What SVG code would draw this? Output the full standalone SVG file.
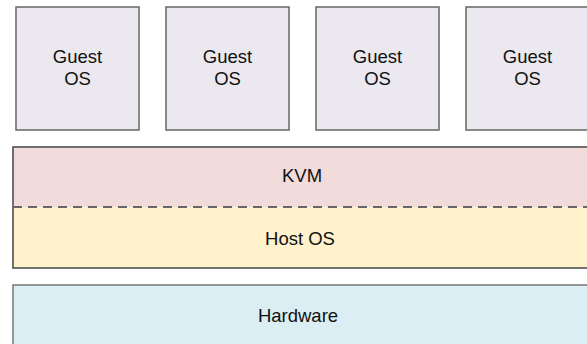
<svg xmlns="http://www.w3.org/2000/svg" width="587" height="344" viewBox="0 0 587 344">
<style>
.guest{fill:#ebe8ef;stroke:#666;stroke-width:1.5}
.t{font-family:"Liberation Sans",Arial,sans-serif;font-size:18.5px;fill:#111;text-anchor:middle}
</style>
<rect width="587" height="344" fill="#fff"/>
<g id="guest1"><rect class="guest" x="16" y="7" width="123" height="123"/><text class="t" x="77.5" y="63">Guest</text><text class="t" x="77.5" y="85">OS</text></g>
<g id="guest2"><rect class="guest" x="166" y="7" width="123" height="123"/><text class="t" x="227.5" y="63">Guest</text><text class="t" x="227.5" y="85">OS</text></g>
<g id="guest3"><rect class="guest" x="316" y="7" width="123" height="123"/><text class="t" x="377.5" y="63">Guest</text><text class="t" x="377.5" y="85">OS</text></g>
<g id="guest4"><rect class="guest" x="466" y="7" width="123" height="123"/><text class="t" x="527.5" y="63">Guest</text><text class="t" x="527.5" y="85">OS</text></g>
<g id="kvm-host">
<rect x="13" y="147" width="576" height="60" fill="#f2dcdb"/>
<rect x="13" y="207" width="576" height="61" fill="#fff2cc"/>
<rect x="13" y="147" width="576" height="121" fill="none" stroke="#444" stroke-width="1.5"/>
<text class="t" x="302" y="182">KVM</text>
<text class="t" x="300" y="245">Host OS</text>
</g>
<g id="hardware">
<rect x="13" y="285" width="576" height="70" fill="#dbeef4" stroke="#777" stroke-width="1.5"/>
<text class="t" x="298" y="322">Hardware</text>
</g>
<g id="connectors">
<line x1="13" y1="207" x2="587" y2="207" stroke="#666" stroke-width="2" stroke-dasharray="9,6"/>
</g>
</svg>
